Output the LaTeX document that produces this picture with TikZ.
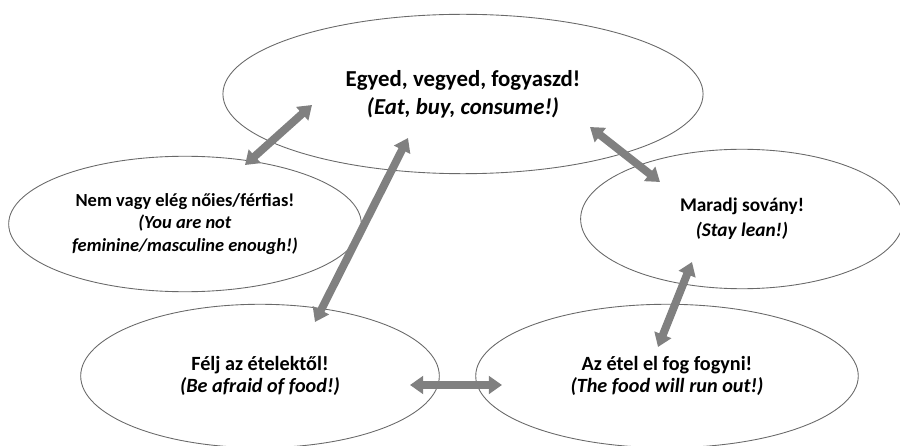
\documentclass[tikz,border=0pt]{standalone}
\usepackage{fontspec}
\setmainfont{Carlito}
\usetikzlibrary{shapes.geometric,arrows.meta}
\definecolor{arrowgray}{RGB}{128,128,128}
\definecolor{rimgray}{RGB}{105,105,105}

\begin{document}
\begin{tikzpicture}[x=0.02cm, y=-0.02cm,
    bubble/.style={draw=rimgray, line width=0.5pt, ellipse, inner sep=0pt, align=center,
                   font=\fontsize{10.5}{13}\selectfont},
    twoway/.style={draw=arrowgray, line width=4.5pt,
                   {Triangle[length=7.5pt, width=10pt]}-{Triangle[length=7.5pt, width=10pt]}}]
    \useasboundingbox (0,0) rectangle (900,446);
    % the five bubbles
    \node[bubble, minimum width=482pt*0.567, minimum height=160pt*0.567,
          font=\fontsize{13}{16}\selectfont] (eat)  at (463, 94)
         {\textbf{Egyed, vegyed, fogyaszd!}\\\textbf{\textit{(Eat, buy, consume!)}}};
    \node[bubble, minimum width=354pt*0.567, minimum height=136pt*0.567] (gender) at (185,224)
         {\textbf{Nem vagy elég nőies/férfias!}\\\textbf{\textit{(You are not}}\\\textbf{\textit{feminine/masculine enough!)}}};
    \node[bubble, minimum width=324pt*0.567, minimum height=140pt*0.567,
          font=\fontsize{11}{14}\selectfont] (lean)   at (742,219)
         {\textbf{Maradj sovány!}\\\textbf{\textit{(Stay lean!)}}};
    \node[bubble, minimum width=360pt*0.567, minimum height=144pt*0.567,
          font=\fontsize{11.5}{12.5}\selectfont] (afraid) at (260,376)
         {\textbf{Félj az ételektől!}\\\textbf{\textit{(Be afraid of food!)}}};
    \node[bubble, minimum width=384pt*0.567, minimum height=144pt*0.567,
          font=\fontsize{11.5}{12.5}\selectfont] (runout) at (667,376)
         {\textbf{Az étel el fog fogyni!}\\\textbf{\textit{(The food will run out!)}}};
    % arrow ends
    \coordinate (eat-w)    at (312,105);
    \coordinate (gender-n) at (245,165);
    \coordinate (eat-s)    at (408,138);
    \coordinate (afraid-n) at (315,322);
    \coordinate (eat-e)    at (590,127);
    \coordinate (lean-n)   at (660,182);
    \coordinate (lean-s)   at (692,262);
    \coordinate (runout-n) at (658,347);
    \coordinate (afraid-e) at (410,385);
    \coordinate (runout-w) at (502,385);
    % the arrows
    \draw[twoway] (gender-n) -- (eat-w);
    \draw[twoway] (afraid-n) -- (eat-s);
    \draw[twoway] (eat-e)    -- (lean-n);
    \draw[twoway] (runout-n) -- (lean-s);
    \draw[twoway] (afraid-e) -- (runout-w);
\end{tikzpicture}
\end{document}
